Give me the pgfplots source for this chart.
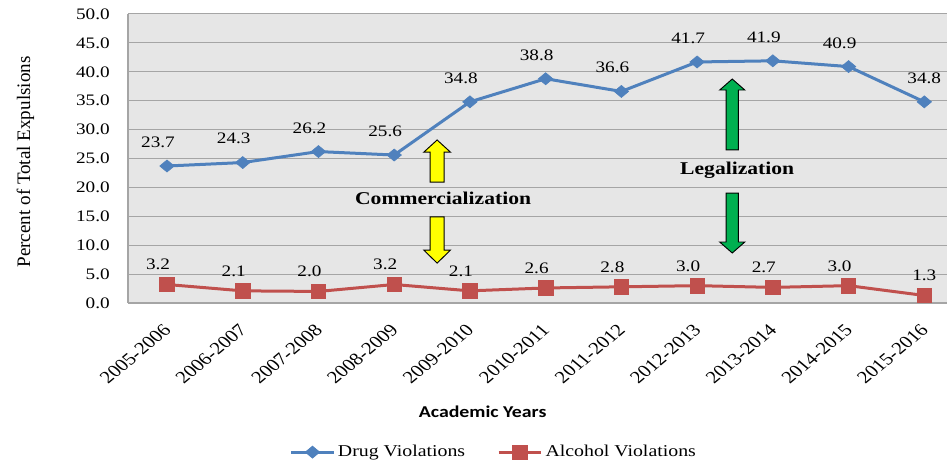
\documentclass[border=0pt]{standalone}
\usepackage{fontspec}
\setmainfont{Liberation Serif}[FakeStretch=1.2]
\newfontfamily\calibri{Carlito}[FakeStretch=1.2]
\newfontfamily\plainserif{Liberation Serif}
\usepackage{graphicx}
\usepackage{pgfplots}
\pgfplotsset{compat=1.18}
\definecolor{drug}{RGB}{79,129,189}
\definecolor{alc}{RGB}{192,80,77}
\definecolor{bg}{RGB}{230,230,230}
\definecolor{grd}{RGB}{165,165,165}
\definecolor{grn}{RGB}{0,176,80}
\definecolor{ylw}{RGB}{255,255,0}
\newcommand{\xl}[1]{\scalebox{1.2}[1]{\rotatebox{45}{\plainserif\fontsize{13}{15}\selectfont #1}}}
% x, ytail, ytip, yheadbase, halfshaft, halfhead, colour
\newcommand{\BlockArrow}[7]{\draw[fill=#7, line width=0.7pt, line join=miter]
 ([xshift=-#5]axis cs:#1,#2) -- ([xshift=-#5]axis cs:#1,#4) -- ([xshift=-#6]axis cs:#1,#4)
 -- (axis cs:#1,#3) -- ([xshift=#6]axis cs:#1,#4) -- ([xshift=#5]axis cs:#1,#4)
 -- ([xshift=#5]axis cs:#1,#2) -- cycle;}
\begin{document}
\begin{tikzpicture}
\begin{axis}[
  name=ax,
  scale only axis,
  width=614.25pt, height=216.75pt,
  xmin=-0.515, xmax=10.30,
  ymin=0, ymax=50,
  ytick={0,5,...,50},
  xtick={0,...,10},
  xticklabels={\xl{2005-2006},\xl{2006-2007},\xl{2007-2008},\xl{2008-2009},\xl{2009-2010},\xl{2010-2011},\xl{2011-2012},\xl{2012-2013},\xl{2013-2014},\xl{2014-2015},\xl{2015-2016}},
  axis background/.style={fill=bg},
  ymajorgrids,
  major grid style={grd, line width=0.75pt},
  axis x line*=bottom, axis y line*=left,
  axis line style={grd, line width=1.2pt, -},
  major tick length=0pt,
  tick style={draw=none},
  yticklabel style={/pgf/number format/fixed, /pgf/number format/fixed zerofill, /pgf/number format/precision=1, /pgf/number format/assume math mode=true,
    font=\fontsize{12}{14}\selectfont, anchor=east, inner sep=0pt, xshift=-13.5pt},
  x tick label style={anchor=north east, inner sep=0pt, xshift=4pt, yshift=-15pt},
  clip=false,
  legend style={at={(0.447,-0.516)}, anchor=center, legend columns=2, draw=none, fill=none,
    font=\fontsize{12.4}{14}\selectfont, /tikz/every even column/.append style={column sep=22pt}},
  legend image code/.code={\draw[mark repeat=2, mark phase=2] plot coordinates {(0pt,0pt)(16pt,0pt)(32pt,0pt)};},
  nodes near coords={\pgfmathprintnumber[fixed, fixed zerofill, precision=1, assume math mode=true]{\pgfplotspointmeta}},
  every node near coord/.append style={font=\fontsize{12}{14}\selectfont, inner sep=0pt, anchor=south, xshift=-6.75pt, text=black},
  coordinate style/.condition={x>9.5}{xshift=6.75pt},
]
\addplot[color=drug, line width=2.25pt, mark=diamond*, mark size=4.5pt,
  mark options={xscale=1.6, fill=drug, draw=drug, line width=0.5pt},
  every node near coord/.append style={yshift=13.5pt}]
  coordinates {(0,23.7)(1,24.3)(2,26.2)(3,25.6)(4,34.8)(5,38.8)(6,36.6)(7,41.7)(8,41.9)(9,40.9)(10,34.8)};
\addlegendentry{Drug Violations}
\addplot[color=alc, line width=2.25pt, mark=square*, mark size=5.4pt,
  mark options={fill=alc, draw=alc, line width=0.5pt, rounded corners=1pt},
  every node near coord/.append style={yshift=10.5pt}]
  coordinates {(0,3.2)(1,2.1)(2,2.0)(3,3.2)(4,2.1)(5,2.6)(6,2.8)(7,3.0)(8,2.7)(9,3.0)(10,1.3)};
\addlegendentry{Alcohol Violations}

\BlockArrow{3.567}{20.9}{28.2}{26.1}{5.25pt}{10pt}{ylw}
\BlockArrow{3.567}{14.9}{6.9}{9.15}{5.25pt}{10pt}{ylw}
\BlockArrow{7.464}{26.5}{38.75}{36.85}{4.6pt}{9.4pt}{grn}
\BlockArrow{7.464}{19.0}{8.65}{10.55}{4.6pt}{9.4pt}{grn}
\node[font=\bfseries\fontsize{13.5}{16}\selectfont] at (axis cs:3.646,18.17) {Commercialization};
\node[font=\bfseries\fontsize{13.5}{16}\selectfont] at (axis cs:7.53,23.0) {Legalization};
\node[rotate=90, font=\plainserif\fontsize{14.3}{16}\selectfont] at ([xshift=-77pt]rel axis cs:0,0.488) {Percent of Total Expulsions};
\node[font=\calibri\bfseries\fontsize{12.4}{14}\selectfont] at ([yshift=-81.75pt]rel axis cs:0.433,0) {Academic Years};
\end{axis}
\pgfresetboundingbox
\path ([shift={(-96pt,-119.25pt)}]ax.south west) rectangle ([shift={(0pt,10.5pt)}]ax.north east);
\end{tikzpicture}
\end{document}
